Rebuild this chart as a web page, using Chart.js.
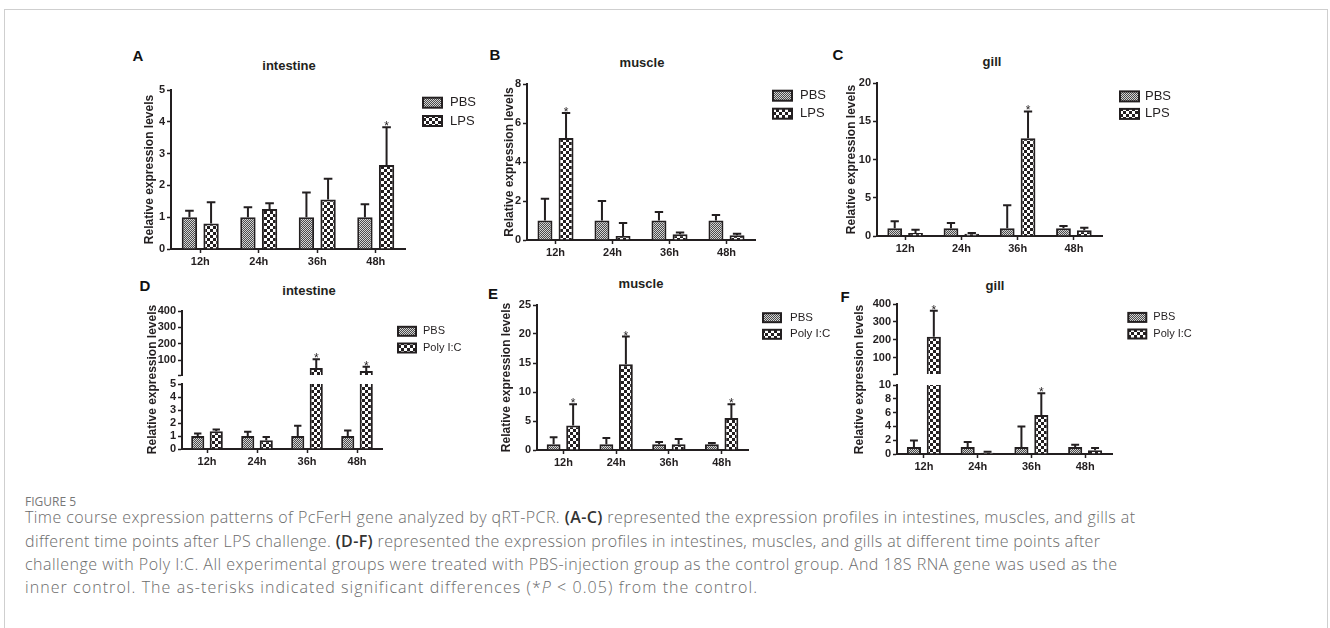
<!DOCTYPE html>
<html>
<head>
<meta charset="utf-8">
<script src="https://cdn.jsdelivr.net/npm/chart.js@4.4.0/dist/chart.umd.min.js"></script>
<style>
  body { margin: 0; width: 1330px; height: 628px; overflow: hidden; position: relative; background: #fff; }
  .frame { position: absolute; left: 4px; top: 9px; width: 1322px; height: 700px; border: 1px solid #cfcfcf; border-bottom: none; }
  .letter { position: absolute; font: bold 15px "Liberation Sans", Arial, sans-serif; color: #111; line-height: 1; transform: translate(-50%, -50%); }
  .ttl { position: absolute; font: bold 13px "Liberation Sans", Arial, sans-serif; color: #231f20; line-height: 1; white-space: nowrap; transform: translate(-50%, -50%); }
  .figno { position: absolute; left: 25px; top: 493px; font: 12px "Open Sans", Lato, sans-serif; color: #777; }
  .cap { position: absolute; left: 25px; font: 300 16px "Open Sans", Lato, sans-serif; color: #6b6b6b; white-space: nowrap; line-height: 23px; }
  .cap b { color: #333; font-weight: 600; }
</style>
</head>
<body>
<div class="frame"></div>

<div class="letter" style="left:138px;top:55px">A</div>
<div class="letter" style="left:495px;top:54px">B</div>
<div class="letter" style="left:838px;top:54px">C</div>
<div class="letter" style="left:145px;top:285px">D</div>
<div class="letter" style="left:493px;top:293px">E</div>
<div class="letter" style="left:845px;top:296px">F</div>

<div class="ttl" style="left:289px;top:65px">intestine</div>
<div class="ttl" style="left:642px;top:62px">muscle</div>
<div class="ttl" style="left:992px;top:61px">gill</div>
<div class="ttl" style="left:309px;top:290px">intestine</div>
<div class="ttl" style="left:641px;top:283px">muscle</div>
<div class="ttl" style="left:995px;top:285px">gill</div>

<div class="figno">FIGURE 5</div>
<div class="cap" data-end="1135" style="top:506px">Time course expression patterns of PcFerH gene analyzed by qRT-PCR. <b>(A-C)</b> represented the expression profiles in intestines, muscles, and gills at</div>
<div class="cap" data-end="1100" style="top:529.5px">different time points after LPS challenge. <b>(D-F)</b> represented the expression profiles in intestines, muscles, and gills at different time points after</div>
<div class="cap" data-end="1117" style="top:553px">challenge with Poly I:C. All experimental groups were treated with PBS-injection group as the control group. And 18S RNA gene was used as the</div>
<div class="cap" data-end="757" style="top:576px">inner control. The as-terisks indicated significant differences (*<i>P</i> &lt; 0.05) from the control.</div>

<script>
// categories
const timePoints = ['12h', '24h', '36h', '48h'];
const noSig = [false, false, false, false];

// A - intestine, LPS challenge
const intestineLpsPbs = [1, 1, 1, 1];
const intestineLpsPbsErr = [1.20, 1.31, 1.78, 1.41];
const intestineLps = [0.80, 1.26, 1.56, 2.64];
const intestineLpsErr = [1.47, 1.44, 2.21, 3.83];
const intestineLpsSig = [false, false, false, true];
const ticksA = [0, 1, 2, 3, 4, 5];

// B - muscle, LPS challenge
const muscleLpsPbs = [1, 1, 1, 1];
const muscleLpsPbsErr = [2.12, 2.00, 1.43, 1.28];
const muscleLps = [5.23, 0.20, 0.29, 0.24];
const muscleLpsErr = [6.51, 0.87, 0.39, 0.32];
const muscleLpsSig = [true, false, false, false];
const ticksB = [0, 2, 4, 6, 8];

// C - gill, LPS challenge
const gillLpsPbs = [1, 1, 1, 1];
const gillLpsPbsErr = [1.93, 1.70, 4.03, 1.31];
const gillLps = [0.40, 0.30, 12.78, 0.74];
const gillLpsErr = [0.83, 0.39, 16.28, 1.09];
const gillLpsSig = [false, false, true, false];
const ticksC = [0, 5, 10, 15, 20];

// D - intestine, Poly I:C challenge (broken axis)
const intestinePolyPbs = [1, 1, 1, 1];
const intestinePolyPbsErr = [1.19, 1.32, 1.78, 1.42];
const intestinePoly = [1.37, 0.67, 53, 35];
const intestinePolyErr = [1.50, 0.93, 106, 61];
const intestinePolySig = [false, false, true, true];
const ticksDLow = [0, 1, 2, 3, 4, 5];
const ticksDUp = [10, 100, 200, 300, 400];

// E - muscle, Poly I:C challenge
const musclePolyPbs = [1, 1, 1, 1];
const musclePolyPbsErr = [2.18, 2.06, 1.38, 1.20];
const musclePoly = [4.24, 14.8, 1.0, 5.5];
const musclePolyErr = [7.9, 19.55, 1.9, 7.9];
const musclePolySig = [true, true, false, true];
const ticksE = [0, 5, 10, 15, 20, 25];

// F - gill, Poly I:C challenge (broken axis)
const gillPolyPbs = [1, 1, 1, 1];
const gillPolyPbsErr = [1.97, 1.73, 3.99, 1.35];
const gillPoly = [218, 0.19, 5.67, 0.53];
const gillPolyErr = [362, 0.34, 8.8, 0.87];
const gillPolySig = [true, false, true, false];
const ticksFLow = [0, 2, 4, 6, 8, 10];
const ticksFUp = [10, 100, 200, 300, 400];

const ink = '#231f20';
const FONT = '"Liberation Sans", Arial, sans-serif';
const AXIS_W = 60, TOP_PAD = 20, RIGHT_PAD = 95, X_H = 26;

function makePattern(cell, dark, light) {
    const c = document.createElement('canvas');
    c.width = c.height = cell * 2;
    const g = c.getContext('2d');
    g.fillStyle = light; g.fillRect(0, 0, cell * 2, cell * 2);
    g.fillStyle = dark; g.fillRect(0, 0, cell, cell); g.fillRect(cell, cell, cell, cell);
    return g.createPattern(c, 'repeat');
}
const pbsFill = makePattern(1, '#4a4a4a', '#d4d4d4');
const trtFill = makePattern(3, ink, '#ffffff');

// error bars (upward only) + significance stars
const errorBars = {
    id: 'errorBars',
    afterDatasetDraw(chart, args) {
        const ds = chart.data.datasets[args.index];
        if (!ds.err) return;
        const meta = args.meta, ys = meta.yScale, ctx = chart.ctx, area = chart.chartArea;
        ctx.save();
        ctx.beginPath();
        ctx.rect(area.left, ys.top - 1, area.right - area.left, ys.bottom - ys.top + 1);
        ctx.clip();
        ctx.strokeStyle = ink; ctx.lineWidth = 2;
        meta.data.forEach((bar, i) => {
            if (ds.data[i] === null) return;
            const top = ys.getPixelForValue(ds.err[i]);
            const half = bar.width * 0.28;
            ctx.beginPath();
            ctx.moveTo(bar.x, bar.y); ctx.lineTo(bar.x, top);
            ctx.moveTo(bar.x - half, top); ctx.lineTo(bar.x + half, top);
            ctx.stroke();
        });
        ctx.restore();
        ctx.save();
        ctx.fillStyle = ink; ctx.font = '12px ' + FONT; ctx.textAlign = 'center'; ctx.textBaseline = 'alphabetic';
        meta.data.forEach((bar, i) => {
            if (ds.data[i] !== null && ds.sig[i] && ds.err[i] <= ys.max && ds.err[i] >= ys.min) {
                ctx.fillText('*', bar.x, ys.getPixelForValue(ds.err[i]) + 3);
            }
        });
        ctx.restore();
    }
};

// legend to the right of the plot
const sideLegend = {
    id: 'sideLegend',
    afterDraw(chart, args, o) {
        const ctx = chart.ctx, a = chart.chartArea;
        const items = chart.data.datasets.filter(d => d.inLegend);
        ctx.save();
        ctx.font = o.size + 'px ' + FONT; ctx.textBaseline = 'middle'; ctx.textAlign = 'left';
        items.forEach((d, i) => {
            const bx = a.right + o.dx, cy = a.top + o.dy + i * o.gap;
            ctx.fillStyle = d.backgroundColor;
            ctx.fillRect(bx, cy - o.bh / 2, o.bw, o.bh);
            ctx.lineWidth = 2; ctx.strokeStyle = ink;
            ctx.strokeRect(bx, cy - o.bh / 2, o.bw, o.bh);
            ctx.fillStyle = ink;
            ctx.fillText(d.label, bx + o.tx, cy);
        });
        ctx.restore();
    }
};

const tickFont = { family: FONT, size: 11, weight: 'bold' };

function yAxis(ticksArr, extra) {
    return Object.assign({
        type: 'linear', position: 'left',
        min: ticksArr[0], max: ticksArr[ticksArr.length - 1],
        afterBuildTicks: s => { s.ticks = ticksArr.map(v => ({ value: v })); },
        afterFit: s => { s.width = AXIS_W; },
        ticks: { font: tickFont, color: ink, padding: 2, autoSkip: false },
        grid: { display: true, drawOnChartArea: false, drawTicks: true, tickLength: 4, tickWidth: 1.5, tickColor: ink },
        border: { display: true, color: ink, width: 2 }
    }, extra || {});
}

function yTitle(gap) {
    return {
        display: true, text: 'Relative expression levels', color: ink,
        font: { family: FONT, size: 12, weight: 'bold' },
        padding: { top: AXIS_W - gap - 7.2, bottom: 0 }
    };
}

function barSet(spec, yId, inLegend, floor) {
    const keep = arr => (floor === undefined ? arr : arr.map(v => (v > floor ? v : null)));
    const common = { yAxisID: yId, borderColor: ink, borderWidth: 2, barPercentage: 0.71, categoryPercentage: 0.74, clip: 0, inLegend };
    return [
        Object.assign({ label: 'PBS', data: keep(spec.pbs), err: spec.pbsErr, sig: noSig, backgroundColor: pbsFill, stack: 'pbs' }, common),
        Object.assign({ label: spec.treat, data: keep(spec.trt), err: spec.trtErr, sig: spec.sig, backgroundColor: trtFill, stack: 'trt' }, common)
    ];
}

function buildPanel(spec) {
    const [l, t, r, b] = spec.area;
    const w = r - l + AXIS_W + RIGHT_PAD, h = b - t + TOP_PAD + X_H;
    const cv = document.createElement('canvas');
    cv.width = w; cv.height = h;
    cv.style.cssText = `position:absolute;left:${l - AXIS_W}px;top:${t - TOP_PAD}px;width:${w}px;height:${h}px`;
    document.body.appendChild(cv);

    const scales = {
        x: {
            type: 'category', offset: true,
            afterFit: s => { s.height = X_H; },
            ticks: { font: tickFont, color: ink, padding: 2, maxRotation: 0, autoSkip: false },
            grid: { display: true, offset: false, drawOnChartArea: false, tickLength: 4, tickWidth: 1.5, tickColor: ink },
            border: { display: true, color: ink, width: 2 }
        }
    };
    let datasets;
    if (spec.upTicks) {
        const [wUp, wGap, wLow] = spec.weights;
        scales.yUp = yAxis(spec.upTicks, {
            stack: 'v', stackWeight: wUp, weight: 3,
            ticks: { font: tickFont, color: ink, padding: 2, autoSkip: false, callback: v => (v === spec.upTicks[0] ? '' : v) }
        });
        scales.yGap = {
            type: 'linear', position: 'left', stack: 'v', stackWeight: wGap, weight: 2,
            afterFit: s => { s.width = AXIS_W; },
            ticks: { display: false }, grid: { display: false }, border: { display: false },
            title: yTitle(spec.titleGap)
        };
        scales.yLow = yAxis(spec.yTicks, { stack: 'v', stackWeight: wLow, weight: 1 });
        datasets = barSet(spec, 'yUp', false, spec.upTicks[0]).concat(barSet(spec, 'yLow', true));
    } else {
        scales.y = yAxis(spec.yTicks, { title: yTitle(spec.titleGap) });
        datasets = barSet(spec, 'y', true);
    }

    new Chart(cv, {
        type: 'bar',
        data: { labels: timePoints, datasets },
        options: {
            responsive: false, animation: false,
            layout: { padding: { left: 0, top: TOP_PAD, right: RIGHT_PAD, bottom: 0 } },
            scales,
            plugins: { legend: { display: false }, tooltip: { enabled: false }, sideLegend: spec.legend }
        },
        plugins: [errorBars, sideLegend]
    });
}

const panels = [
    { area: [171, 90, 405, 249], treat: 'LPS', pbs: intestineLpsPbs, pbsErr: intestineLpsPbsErr, trt: intestineLps, trtErr: intestineLpsErr, sig: intestineLpsSig,
      yTicks: ticksA, titleGap: 21, legend: { dx: 18, dy: 12.7, gap: 18.3, size: 13, bw: 19, bh: 10, tx: 27 } },
    { area: [527, 84, 755, 240], treat: 'LPS', pbs: muscleLpsPbs, pbsErr: muscleLpsPbsErr, trt: muscleLps, trtErr: muscleLpsErr, sig: muscleLpsSig,
      yTicks: ticksB, titleGap: 17, legend: { dx: 18, dy: 11.7, gap: 18, size: 13, bw: 19, bh: 10, tx: 27 } },
    { area: [877, 83, 1102, 236], treat: 'LPS', pbs: gillLpsPbs, pbsErr: gillLpsPbsErr, trt: gillLps, trtErr: gillLpsErr, sig: gillLpsSig,
      yTicks: ticksC, titleGap: 25, legend: { dx: 18, dy: 13.4, gap: 17.5, size: 13, bw: 19, bh: 10, tx: 25 } },
    { area: [182, 311, 382, 449], treat: 'Poly I:C', pbs: intestinePolyPbs, pbsErr: intestinePolyPbsErr, trt: intestinePoly, trtErr: intestinePolyErr, sig: intestinePolySig,
      yTicks: ticksDLow, upTicks: ticksDUp, weights: [64, 9, 65], titleGap: 29, legend: { dx: 16, dy: 20.3, gap: 16.7, size: 11, bw: 18, bh: 9, tx: 25 } },
    { area: [537, 305, 748, 450], treat: 'Poly I:C', pbs: musclePolyPbs, pbsErr: musclePolyPbsErr, trt: musclePoly, trtErr: musclePolyErr, sig: musclePolySig,
      yTicks: ticksE, titleGap: 30, legend: { dx: 15, dy: 12.7, gap: 16.6, size: 11.5, bw: 18, bh: 9, tx: 27 } },
    { area: [897, 304, 1112, 454], treat: 'Poly I:C', pbs: gillPolyPbs, pbsErr: gillPolyPbsErr, trt: gillPoly, trtErr: gillPolyErr, sig: gillPolySig,
      yTicks: ticksFLow, upTicks: ticksFUp, weights: [70, 11, 69], titleGap: 37, legend: { dx: 16.3, dy: 13.4, gap: 16.6, size: 11, bw: 18, bh: 9, tx: 25 } }
];

panels.forEach(buildPanel);

// stretch each caption line to the width it has in the figure
document.querySelectorAll('.cap').forEach(el => {
    const target = +el.dataset.end - 25;
    const width = el.getBoundingClientRect().width;
    const n = el.textContent.length - 1;
    el.style.letterSpacing = ((target - width) / n).toFixed(3) + 'px';
});
</script>
</body>
</html>
